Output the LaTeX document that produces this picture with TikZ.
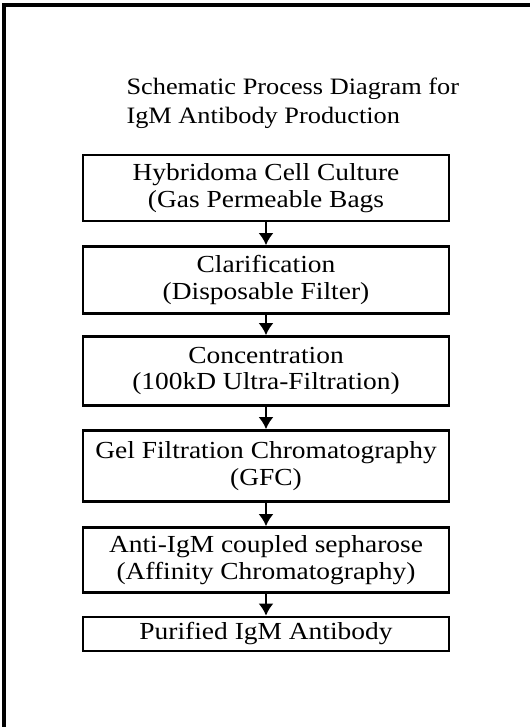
\documentclass[tikz,border=0pt]{standalone}
\usepackage{fontspec}
\setmainfont{Liberation Serif}
\newfontfamily\stagefont[FakeStretch=1.12]{Liberation Serif}
\usetikzlibrary{arrows.meta}
\tikzset{>={Latex[length=12pt,width=15pt]}}
\tikzset{
  stage/.style = {draw, line width=2.6pt, minimum width=366pt, align=center,
    inner sep=0pt, font=\stagefont\fontsize{24.5}{26.5}\selectfont},
  flow/.style = {->, line width=2.8pt}
}

\begin{document}
\begin{tikzpicture}[x=1pt,y=-1pt]
  \useasboundingbox (0,0) rectangle (530,727);
  % frame (only left and top edges are in view)
  \draw[line width=3.5pt] (4,727) -- (4,5) -- (530,5);
  % title
  \node[align=left, anchor=west, font=\stagefont\fontsize{23.5}{29}\selectfont] (title) at (123,103)
    {Schematic Process Diagram for\\IgM Antibody Production};
  % stages
  \node[stage, minimum height=66pt] (culture) at (266,188) {Hybridoma Cell Culture\\(Gas Permeable Bags};
  \node[stage, minimum height=67pt] (clarify) at (266,280) {Clarification\\(Disposable Filter)};
  \node[stage, minimum height=69pt] (conc)    at (266,371) {Concentration\\(100kD Ultra-Filtration)};
  \node[stage, minimum height=71pt] (gfc)     at (266,466) {Gel Filtration Chromatography\\(GFC)};
  \node[stage, minimum height=65pt] (affin)   at (266,560) {Anti-IgM coupled sepharose\\(Affinity Chromatography)};
  \node[stage, minimum height=34pt] (pure)    at (266,634) {Purified IgM Antibody};
  % arrows
  \draw[flow] (culture) -- (clarify);
  \draw[flow] (clarify) -- (conc);
  \draw[flow] (conc) -- (gfc);
  \draw[flow] (gfc) -- (affin);
  \draw[flow] (affin) -- (pure);
\end{tikzpicture}
\end{document}
